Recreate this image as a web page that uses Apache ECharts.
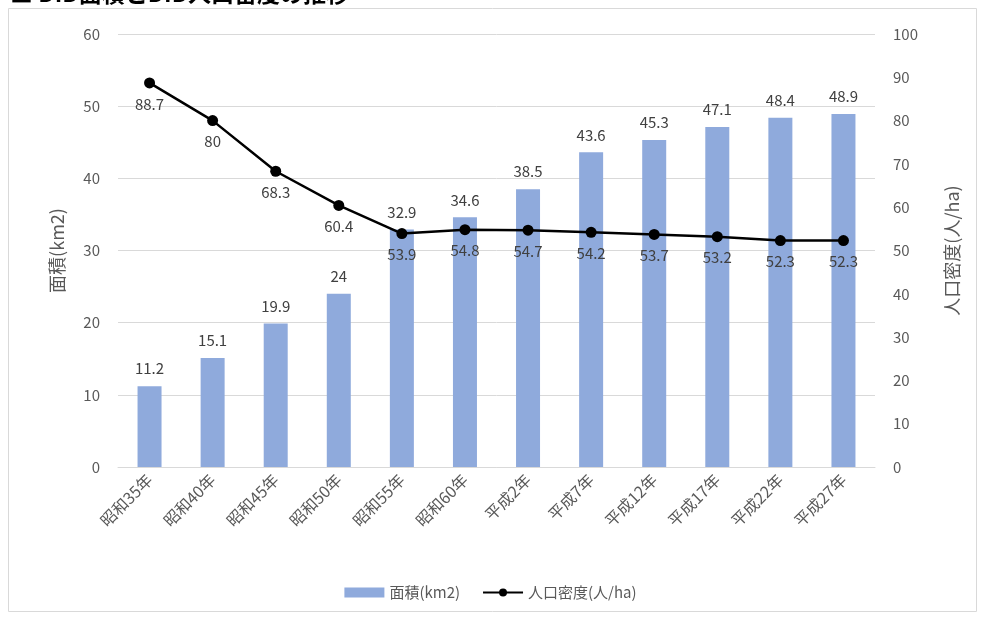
<!DOCTYPE html>
<html><head><meta charset="utf-8">
<script src="https://cdn.jsdelivr.net/npm/echarts@6/dist/echarts.min.js"></script>
<style>html,body{margin:0;padding:0;background:#fff}#c{width:981px;height:619px}</style>
</head><body><div id="c"></div>
<script>
const categories = ['昭和35年','昭和40年','昭和45年','昭和50年','昭和55年','昭和60年','平成2年','平成7年','平成12年','平成17年','平成22年','平成27年'];
const areaValues = [11.2, 15.1, 19.9, 24, 32.9, 34.6, 38.5, 43.6, 45.3, 47.1, 48.4, 48.9];
const densityValues = [88.7, 80, 68.3, 60.4, 53.9, 54.8, 54.7, 54.2, 53.7, 53.2, 52.3, 52.3];
const seriesNames = ['面積(km2)', '人口密度(人/ha)'];
const titleText = '■ DID面積とDID人口密度の推移';

const font = '"Noto Sans CJK JP", "Open Sans", sans-serif';
const chart = echarts.init(document.getElementById('c'));
chart.setOption({
  animation: false,
  textStyle: { fontFamily: font },
  graphic: [
    { type: 'rect', shape: { x: 8.5, y: 8.5, width: 968, height: 603 }, style: { fill: 'none', stroke: '#d9d9d9', lineWidth: 1 }, z: -1 },
    { type: 'text', left: 10, top: -18, style: { text: titleText, font: 'bold 23px "Noto Sans CJK JP"', fill: '#000' } }
  ],
  grid: { left: 118, right: 106, top: 34, bottom: 152 },
  legend: {
    bottom: 14, left: 'center', itemGap: 22,
    textStyle: { fontSize: 15, color: '#595959', fontFamily: font },
    data: [
      { name: seriesNames[0], icon: 'rect' },
      { name: seriesNames[1] }
    ],
    itemWidth: 40, itemHeight: 10
  },
  xAxis: {
    type: 'category', data: categories,
    axisLine: { lineStyle: { color: '#d9d9d9' } },
    axisTick: { show: false },
    axisLabel: { rotate: 45, fontSize: 16, color: '#595959', margin: 10, interval: 0 }
  },
  yAxis: [
    {
      type: 'value', min: 0, max: 60, interval: 10,
      name: seriesNames[0], nameLocation: 'middle', nameGap: 52, nameRotate: 90,
      nameTextStyle: { fontSize: 18, color: '#595959' },
      axisLabel: { fontSize: 15, color: '#595959', margin: 18 },
      axisLine: { show: false }, axisTick: { show: false },
      splitLine: { lineStyle: { color: '#d9d9d9' } }
    },
    {
      type: 'value', min: 0, max: 100, interval: 10,
      name: seriesNames[1], nameLocation: 'middle', nameGap: 68, nameRotate: 90,
      nameTextStyle: { fontSize: 18, color: '#595959' },
      axisLabel: { fontSize: 15, color: '#595959', margin: 18 },
      axisLine: { show: false }, axisTick: { show: false },
      splitLine: { show: false }
    }
  ],
  series: [
    {
      name: seriesNames[0], type: 'bar', yAxisIndex: 0, data: areaValues,
      barWidth: 24,
      itemStyle: { color: '#8FAADC' },
      label: { show: true, position: 'top', fontSize: 15, color: '#404040', distance: 10 }
    },
    {
      name: seriesNames[1], type: 'line', yAxisIndex: 1, data: densityValues,
      symbol: 'circle', symbolSize: 11,
      lineStyle: { color: '#000', width: 2.5 },
      itemStyle: { color: '#000' },
      label: { show: true, position: 'bottom', fontSize: 15, color: '#404040', distance: 8 }
    }
  ]
});
</script></body></html>
